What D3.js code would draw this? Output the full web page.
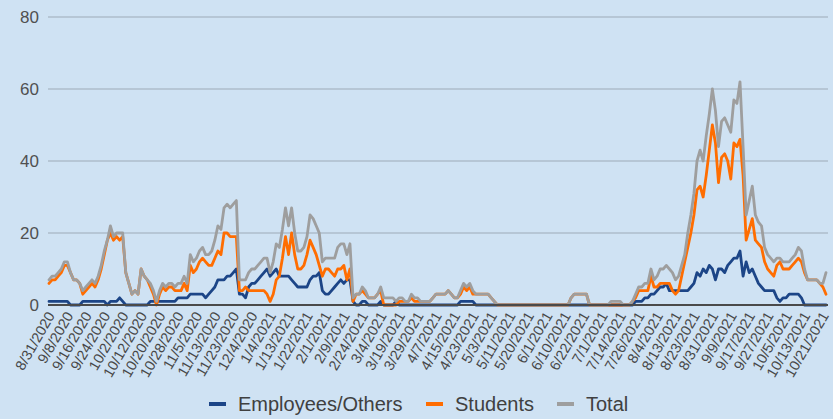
<!DOCTYPE html>
<html><head><meta charset="utf-8">
<script src="https://cdn.jsdelivr.net/npm/d3@7"></script>
<style>
html,body{margin:0;padding:0;background:#cfe2f3;}
svg{display:block;font-family:"Liberation Sans",Arial,sans-serif;}
</style></head>
<body>
<svg id="chart" width="833" height="419"></svg>
<script>
// Tick labels (every 6th reporting day)
const tickLabels = ["8/31/2020","9/8/2020","9/16/2020","9/24/2020","10/2/2020","10/12/2020","10/20/2020","10/28/2020","11/5/2020","11/13/2020","11/23/2020","12/4/2020","1/4/2021","1/13/2021","1/22/2021","2/1/2021","2/9/2021","2/24/2021","3/4/2021","3/19/2021","3/29/2021","4/7/2021","4/15/2021","4/23/2021","5/3/2021","5/11/2021","5/20/2021","6/1/2021","6/10/2021","6/22/2021","7/1/2021","7/14/2021","7/26/2021","8/4/2021","8/13/2021","8/23/2021","8/31/2021","9/9/2021","9/17/2021","9/27/2021","10/5/2021","10/13/2021","10/21/2021"];
const labelEvery = 6;
const yTicks = [0,20,40,60,80];
const seriesNames = ["Employees/Others","Students","Total"];

const employees = [
1,1,1,1,1,1,1,0,0,0,
0,1,1,1,1,1,1,1,1,0,
1,1,1,2,1,0,0,0,0,0,
0,0,0,1,1,1,1,1,1,1,
1,1,2,2,2,2,3,3,3,3,
3,2,3,4,5,7,7,7,8,8,
9,10,3,3,2,5,6,6,7,8,
9,10,8,9,10,8,8,8,8,7,
6,5,5,5,5,7,8,8,9,4,
3,3,4,5,6,7,6,7,7,1,
0,0,1,1,0,0,0,0,1,0,
0,0,0,1,0,0,0,0,0,0,
0,0,0,0,0,0,0,0,0,0,
0,0,0,0,1,1,1,1,1,0,
0,0,0,0,0,0,0,0,0,0,
0,0,0,0,0,0,0,0,0,0,
0,0,0,0,0,0,0,0,0,0,
0,0,0,0,0,0,0,0,0,0,
0,0,0,0,0,0,0,0,0,0,
0,1,1,1,2,2,3,3,4,5,
5,6,4,4,4,4,4,4,4,5,
6,9,8,10,9,11,10,7,10,10,
9,11,12,13,13,15,8,12,9,10,
8,6,5,4,4,4,4,2,1,2,
2,3,3,3,3,2,0,0,0,0,
0,0,0,0];

const students = [
6,7,7,8,9,11,11,9,7,7,
6,3,4,5,6,5,7,10,14,18,
20,18,19,18,19,9,6,3,4,3,
10,8,7,5,3,0,3,5,4,5,
5,4,4,4,6,4,11,9,10,12,
13,12,11,11,13,15,14,20,20,19,
19,19,4,4,5,4,4,4,4,4,
4,3,1,3,7,8,13,19,14,20,
14,10,10,11,14,18,16,14,11,8,
10,10,9,8,10,10,11,7,10,1,
3,3,4,3,2,2,2,3,4,0,
0,0,0,0,1,1,1,1,2,1,
1,1,1,1,1,2,3,3,3,3,
4,3,2,2,3,5,4,5,3,3,
3,3,3,3,2,1,0,0,0,0,
0,0,0,0,0,0,0,0,0,0,
0,0,0,0,0,0,0,0,0,0,
2,3,3,3,3,3,0,0,0,0,
0,0,0,0,0,0,0,0,0,0,
1,2,4,4,4,4,8,5,5,6,
6,6,6,4,3,4,8,12,16,20,
25,32,33,30,36,43,50,45,34,41,
42,40,35,45,44,46,36,18,21,24,
18,17,16,12,10,9,8,11,12,10,
10,10,11,12,13,12,9,7,7,7,
7,6,5,3];

const total = [
7,8,8,9,10,12,12,9,7,7,
6,4,5,6,7,6,8,11,15,18,
22,19,20,20,20,9,6,3,4,3,
10,8,7,6,4,1,4,6,5,6,
6,5,6,6,8,6,14,12,13,15,
16,14,14,15,18,22,21,27,28,27,
28,29,7,7,7,9,10,10,11,12,
13,13,9,12,17,16,21,27,22,27,
20,15,15,16,19,25,24,22,20,12,
13,13,13,13,16,17,17,14,17,2,
3,3,5,4,2,2,2,3,5,2,
2,2,2,1,2,2,1,1,3,2,
2,1,1,1,1,2,3,3,3,3,
4,3,2,2,4,6,5,6,4,3,
3,3,3,3,2,1,0,0,0,0,
0,0,0,0,0,0,0,0,0,0,
0,0,0,0,0,0,0,0,0,0,
2,3,3,3,3,3,0,0,0,0,
0,0,0,1,1,1,1,0,0,0,
1,3,5,5,6,6,10,7,8,10,
10,11,10,9,7,8,11,14,20,25,
31,40,43,40,47,53,60,54,44,51,
52,50,48,57,56,62,44,25,29,33,
25,23,22,16,14,13,12,13,13,12,
12,12,13,14,16,15,10,7,7,7,
7,6,6,9];

const colors = ["#1c4587","#ff6d01","#9e9e9e"];
const series = [employees, students, total];

const svg = d3.select("#chart");
const N = total.length;
const x = d3.scaleLinear().domain([0, N-1]).range([49, 826]);
const y = d3.scaleLinear().domain([0, 80]).range([305, 17]);

// gridlines
svg.append("g").selectAll("line").data(yTicks.filter(d=>d>0)).join("line")
  .attr("x1",48).attr("x2",828)
  .attr("y1",d=>y(d)).attr("y2",d=>y(d))
  .attr("stroke","#aebdcb").attr("stroke-width",1.6);

// y labels
svg.append("g").selectAll("text").data(yTicks).join("text")
  .attr("x",39).attr("y",d=>y(d)).attr("dy","0.36em")
  .attr("text-anchor","end").attr("font-size",17).attr("fill","#505050")
  .text(d=>d);

// lines
const line = d3.line().x((d,i)=>x(i)).y(d=>y(d));
svg.append("g").selectAll("path").data(series).join("path")
  .attr("d",d=>line(d)).attr("fill","none")
  .attr("stroke",(d,i)=>colors[i]).attr("stroke-width",2.8)
  .attr("stroke-linejoin","round").attr("stroke-linecap","round");

// baseline
svg.append("line").attr("x1",48).attr("x2",828).attr("y1",y(0)).attr("y2",y(0))
  .attr("stroke","#4a4a4a").attr("stroke-width",1.8);

// x labels
svg.append("g").selectAll("text").data(tickLabels).join("text")
  .attr("transform",(d,i)=>`translate(${x(i*labelEvery)+2},${313}) rotate(-60)`)
  .attr("text-anchor","end").attr("dy","0.35em")
  .attr("font-size",14.5).attr("fill","#474747")
  .text(d=>d);

// legend
const legendX = [209, 426, 557];
const lg = svg.append("g");
seriesNames.forEach((name,i)=>{
  lg.append("line").attr("x1",legendX[i]).attr("x2",legendX[i]+17)
    .attr("y1",404).attr("y2",404).attr("stroke",colors[i]).attr("stroke-width",4);
  lg.append("text").attr("x",legendX[i]+29).attr("y",404).attr("dy","0.36em")
    .attr("font-size",20).attr("fill","#404040").text(name);
});
</script>
</body></html>
